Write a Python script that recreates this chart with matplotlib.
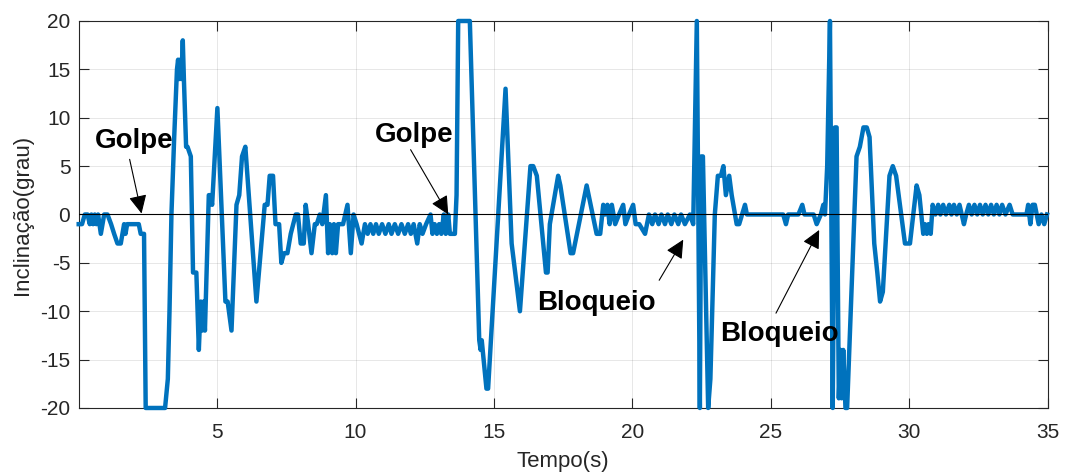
import matplotlib
matplotlib.use('Agg')
import matplotlib.pyplot as plt
import numpy as np

plt.rcParams['font.family'] = ['Liberation Sans', 'DejaVu Sans']
plt.rcParams['axes.unicode_minus'] = False

# ---- data (time in s, inclination in degrees) ----
# quiet start + first strike ("Golpe")
t_strike1 = [0.00, 0.12, 0.22, 0.32, 0.40, 0.46, 0.52, 0.58, 0.64, 0.70,
             0.80, 0.86, 0.92, 1.04, 1.17, 1.28, 1.40, 1.52, 1.64, 1.69,
             1.75, 1.99, 2.17, 2.24, 2.36, 2.42, 3.12, 3.22, 3.28, 3.35,
             3.45, 3.55, 3.59, 3.63, 3.67, 3.71, 3.76, 3.80, 3.88, 3.93,
             4.05, 4.13, 4.25, 4.34, 4.41, 4.46, 4.51, 4.56, 4.70, 4.76,
             4.82, 5.01, 5.30, 5.38, 5.52, 5.70, 5.80, 5.90, 6.02, 6.42,
             6.72, 6.82, 6.90, 7.02, 7.11, 7.24, 7.32, 7.42, 7.54, 7.66,
             7.84, 7.92]
v_strike1 = [-1, -1, 0, 0, -1, 0, -1, 0, -1, 0,
             -2, -1, 0, 0, -1, -2, -3, -3, -1, -2,
             -1, -1, -1, -2, -2, -20, -20, -17, -10, 0,
             8, 15, 16, 14, 16, 14, 18, 14, 7, 7,
             6, -6, -6, -14, -9, -12, -9, -12, 2, 2,
             1, 11, -9, -9, -12, 1, 2, 6, 7, -9,
             1, 1, 4, 4, -1, -1, -5, -4, -4, -2,
             0, 0]

# quiet interval before second strike
t_quiet = [8.02, 8.13, 8.20, 8.29, 8.41, 8.53, 8.60, 8.71, 8.80, 8.93,
           9.01, 9.07, 9.16, 9.22, 9.29, 9.37, 9.55, 9.71, 9.83, 9.93,
           10.04, 10.22, 10.34, 10.44, 10.54, 10.64, 10.74, 10.84, 10.96, 11.08,
           11.20, 11.30, 11.42, 11.54, 11.66, 11.78, 11.90, 12.00, 12.10, 12.23,
           12.32, 12.42, 12.55, 12.71, 12.78, 12.86, 12.94, 13.02, 13.10, 13.19,
           13.26, 13.35, 13.41, 13.59, 13.65]
v_quiet = [-3, -3, 1, -1, -4, -1, -1, 0, -1, 2,
           -4, -1, -4, -1, -4, -1, -1, 1, -4, 0,
           -1, -3, -1, -2, -1, -2, -1, -2, -1, -2,
           -1, -2, -1, -2, -1, -2, -1, -2, -1, -3,
           -1, -2, -1, 0, -2, -1, -2, -1, -2, 0,
           -2, 0, -2, -2, 2]

# second strike response
t_strike2 = [13.71, 14.13, 14.47, 14.52, 14.56, 14.73, 14.79, 15.42, 15.64, 15.94,
             16.32, 16.42, 16.55, 16.88, 16.94, 17.02, 17.08, 17.32, 17.40, 17.77,
             17.86, 18.35, 18.71, 18.84, 18.95, 19.02, 19.10, 19.18, 19.26, 19.38,
             19.52, 19.67, 19.75, 19.88, 20.03, 20.12, 20.25, 20.46, 20.60, 20.72,
             20.82, 20.95, 21.05, 21.18, 21.28, 21.41, 21.52, 21.66, 21.76, 21.90,
             22.08, 22.20]
v_strike2 = [20, 20, -13, -14, -13, -18, -18, 13, -3, -10,
             5, 5, 4, -6, -6, -1, 0, 4, 3, -4,
             -4, 3, -2, -2, 1, 0, 1, -1, 1, -1,
             0, 1, -1, 0, 1, -1, -1, -2, 0, -1,
             0, -1, 0, -1, 0, -1, 0, -1, 0, -1,
             0, -1]

# blocks ("Bloqueio") and final settling
t_blocks = [22.33, 22.44, 22.49, 22.55, 22.74, 22.82, 22.98, 23.09, 23.20, 23.29,
            23.38, 23.50, 23.59, 23.77, 23.86, 24.07, 24.14, 25.45, 25.55, 25.63,
            26.00, 26.14, 26.22, 26.55, 26.66, 26.81, 26.90, 26.96, 27.04, 27.14,
            27.24, 27.32, 27.38, 27.46, 27.52, 27.56, 27.62, 27.70, 27.76, 28.10,
            28.22, 28.35, 28.47, 28.57, 28.74, 28.85, 28.95, 29.05, 29.29, 29.41,
            29.53, 29.85, 30.03, 30.27, 30.37, 30.51, 30.57, 30.64, 30.70, 30.78,
            30.85, 30.95, 31.05, 31.13, 31.23, 31.33, 31.45, 31.53, 31.62, 31.72,
            31.82, 31.98, 32.06, 32.16, 32.26, 32.36, 32.46, 32.56, 32.66, 32.76,
            32.86, 32.96, 33.06, 33.16, 33.26, 33.36, 33.48, 33.63, 33.74, 34.24,
            34.30, 34.38, 34.46, 34.54, 34.68, 34.78, 34.88, 34.98]
v_blocks = [20, -20, 6, 6, -20, -17, 0, 4, 4, 5,
            2, 4, 2, -1, -1, 1, 0, 0, -1, 0,
            0, 1, 0, 0, -1, 0, 1, 0, 5, 20,
            -20, 9, 9, -19, -14, -19, -14, -20, -20, 6,
            7, 9, 9, 8, -3, -6, -9, -8, 4, 5,
            4, -3, -3, 3, 2, -2, -1, -2, -1, -2,
            1, 0, 1, 0, 1, 0, 1, 0, 1, 0,
            1, -1, 0, 1, 0, 1, 0, 1, 0, 1,
            0, 1, 0, 1, 0, 1, 0, 1, 0, 0,
            1, -1, 1, 1, -1, 0, -1, 0]

x_ticks = [5, 10, 15, 20, 25, 30, 35]
y_ticks = [-20, -15, -10, -5, 0, 5, 10, 15, 20]

# annotations: label, text position, arrow tail, arrow head
annotations = [
    ("Golpe", (1.99, 6.9), (1.84, 5.7), (2.27, 0.1)),
    ("Golpe", (12.11, 7.5), (11.99, 6.7), (13.35, 0.0)),
    ("Bloqueio", (18.70, -9.9), (20.97, -6.8), (21.84, -2.6)),
    ("Bloqueio", (25.33, -13.1), (25.19, -10.2), (26.75, -1.6)),
]

time = np.concatenate([t_strike1, t_quiet, t_strike2, t_blocks])
incl = np.concatenate([v_strike1, v_quiet, v_strike2, v_blocks])

fig = plt.figure(figsize=(10.65, 4.76), dpi=100)
ax = fig.add_axes([0.0739, 0.1429, 0.9097, 0.8130])

dark = '#262626'
ax.plot(time, incl, color='#0072BD', lw=3.2, clip_on=False, zorder=3)
ax.axhline(0, color='black', lw=0.8, zorder=4)

ax.set_xlim(0, 35)
ax.set_ylim(-20, 20)
ax.set_xticks(x_ticks)
ax.set_yticks(y_ticks)
ax.grid(True, color=dark, alpha=0.13, lw=0.6)
ax.set_axisbelow(True)
ax.tick_params(direction='in', length=7, width=0.8, top=True, right=True,
               colors=dark, labelsize=15)
ax.tick_params(axis='x', pad=11)
ax.tick_params(axis='y', pad=6)
for s in ax.spines.values():
    s.set_color(dark)
    s.set_linewidth(0.8)

ax.set_xlabel('Tempo(s)', fontsize=16, color=dark, labelpad=6)
ax.set_ylabel('Inclinação(grau)', fontsize=16, color=dark, labelpad=5)

for label, txy, tail, head in annotations:
    ax.annotate('', xy=head, xytext=tail,
                arrowprops=dict(arrowstyle='-|>,head_length=0.45,head_width=0.22',
                                color='black', lw=0.8, mutation_scale=25,
                                shrinkA=0, shrinkB=0), zorder=6)
    ax.text(txy[0], txy[1], label, fontsize=20, fontweight='bold',
            ha='center', va='baseline', color='black', zorder=7)

fig.savefig('out.png', dpi=100)
